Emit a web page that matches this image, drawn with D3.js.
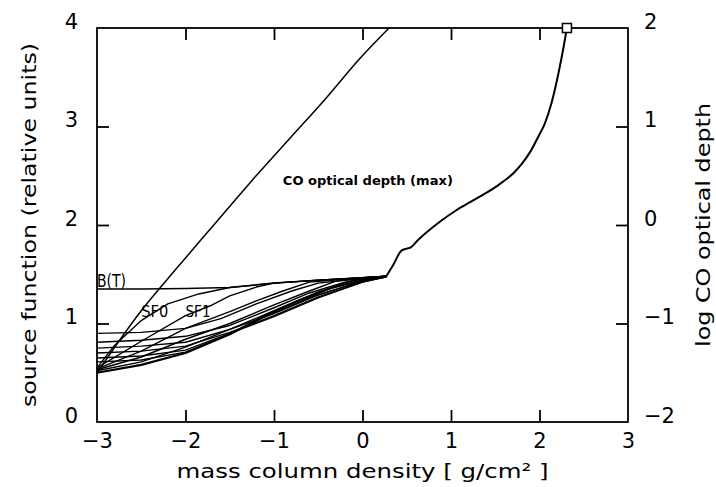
<!DOCTYPE html>
<html>
<head>
<meta charset="utf-8">
<script src="https://cdn.jsdelivr.net/npm/d3@7"></script>
<style>
  html, body { margin: 0; padding: 0; background: #fff; }
  svg { display: block; }
  text { font-family: "DejaVu Sans", "Liberation Sans", sans-serif; fill: #000; }
</style>
</head>
<body>
<svg id="chart" width="716" height="487"></svg>
<script>
// Axis ranges and tick values
const xTicks = [-3, -2, -1, 0, 1, 2, 3];
const yLeftTicks = [0, 1, 2, 3, 4];
const yRightTicks = [-2, -1, 0, 1, 2];

// Planck function B(T) versus log mass column density
const planck = [[-3, 1.35], [-2.5, 1.35], [-2.0, 1.355], [-1.5, 1.365], [-1.0, 1.41], [-0.5, 1.44], [0, 1.465], [0.27, 1.48]];

// Source function curves rising from the surface (SF0, SF1, ...)
const sf0 = [[-3, 0.55], [-2.8, 0.78], [-2.5, 1.03], [-2.2, 1.2], [-1.85, 1.3], [-1.5, 1.365], [-1.0, 1.41], [-0.5, 1.44], [0, 1.465], [0.27, 1.48]];
const sf1 = [[-3, 0.55], [-2.5, 0.82], [-2.0, 1.08], [-1.72, 1.18], [-1.5, 1.28], [-1.2, 1.37], [-1.0, 1.41], [-0.5, 1.44], [0, 1.465], [0.27, 1.48]];
const sf2 = [[-3, 0.54], [-2.5, 0.72], [-2.0, 0.95], [-1.5, 1.12], [-1.2, 1.23], [-0.9, 1.33], [-0.6, 1.42], [0, 1.465], [0.27, 1.48]];
const sf3 = [[-3, 0.53], [-2.5, 0.66], [-2.0, 0.84], [-1.5, 1.0], [-1.0, 1.19], [-0.6, 1.33], [-0.3, 1.43], [0, 1.46], [0.27, 1.48]];
const sf4 = [[-3, 0.52], [-2.5, 0.61], [-2.0, 0.76], [-1.5, 0.94], [-1.0, 1.13], [-0.5, 1.32], [-0.1, 1.44], [0.27, 1.48]];
const sf5 = [[-3, 0.5], [-2.5, 0.58], [-2.0, 0.7], [-1.5, 0.89], [-1.1, 1.08], [-0.7, 1.24], [-0.35, 1.36], [0, 1.44], [0.27, 1.475]];

// Source function curves starting flat near the surface
const sf6 = [[-3, 0.9], [-2.5, 0.91], [-2.0, 0.95], [-1.6, 1.05], [-1.2, 1.2], [-0.8, 1.33], [-0.5, 1.41], [0, 1.46], [0.27, 1.48]];
const sf7 = [[-3, 0.81], [-2.5, 0.83], [-2.0, 0.87], [-1.5, 0.98], [-1.0, 1.16], [-0.6, 1.31], [-0.2, 1.42], [0.1, 1.465], [0.27, 1.48]];
const sf8 = [[-3, 0.75], [-2.5, 0.77], [-2.0, 0.81], [-1.5, 0.94], [-1.0, 1.1], [-0.5, 1.29], [0, 1.43], [0.27, 1.48]];
const sf9 = [[-3, 0.7], [-2.5, 0.72], [-2.0, 0.77], [-1.5, 0.91], [-1.0, 1.08], [-0.5, 1.27], [0, 1.42], [0.27, 1.475]];
const sf10 = [[-3, 0.65], [-2.5, 0.67], [-2.0, 0.73], [-1.5, 0.9], [-1.0, 1.07], [-0.5, 1.26], [0, 1.42], [0.27, 1.475]];
const sf11 = [[-3, 0.61], [-2.5, 0.63], [-2.0, 0.71], [-1.5, 0.89], [-1.1, 1.07], [-0.6, 1.26], [0, 1.43], [0.27, 1.475]];

const sfCurves = [sf0, sf1, sf2, sf3, sf4, sf6, sf7, sf8, sf9, sf10, sf11];
const sfEnvelope = sf5;

// Common source function beyond the thermalisation point
const sfDeep = [[0.27, 1.48], [0.35, 1.6], [0.44, 1.74], [0.5, 1.76], [0.54, 1.77], [0.63, 1.85], [0.87, 2.03], [1.06, 2.15], [1.25, 2.25], [1.51, 2.39], [1.71, 2.53], [1.8, 2.62], [1.9, 2.75], [2.0, 2.92], [2.06, 3.03], [2.13, 3.22], [2.19, 3.44], [2.25, 3.7], [2.31, 4.0]];

// Maximum CO optical depth (log, right axis)
const coDepth = [[-3.0, -1.5], [-2.5, -0.87], [-2.1, -0.44], [-1.7, -0.02], [-1.27, 0.43], [-0.82, 0.88], [-0.4, 1.3], [-0.03, 1.69], [0.3, 2.0]];

const svg = d3.select("#chart");

const x = d3.scaleLinear().domain([-3, 3]).range([97, 628]);
const yL = d3.scaleLinear().domain([0, 4]).range([422, 28]);
const yR = d3.scaleLinear().domain([-2, 2]).range([422, 28]);

const tickFont = "21px";

// Bottom axis with labels
const gB = svg.append("g").attr("transform", `translate(0,${yL(0)})`)
  .call(d3.axisBottom(x).tickValues(xTicks).tickSizeInner(-12).tickSizeOuter(0).tickPadding(11).tickFormat(d3.format("d")));
// Top axis, ticks only
const gT = svg.append("g").attr("transform", `translate(0,${yL(4)})`)
  .call(d3.axisTop(x).tickValues(xTicks.slice(1, -1)).tickSizeInner(-12).tickSizeOuter(0).tickFormat(""));
// Left axis
const gL = svg.append("g").attr("transform", `translate(${x(-3)},0)`)
  .call(d3.axisLeft(yL).tickValues(yLeftTicks).tickSizeInner(-12).tickSizeOuter(0).tickPadding(19).tickFormat(d3.format("d")));
// Right axis
const gR = svg.append("g").attr("transform", `translate(${x(3)},0)`)
  .call(d3.axisRight(yR).tickValues(yRightTicks).tickSizeInner(-12).tickSizeOuter(0).tickPadding(16).tickFormat(d3.format("d")));

[gB, gT, gL, gR].forEach(g => {
  g.select(".domain").remove();
  g.selectAll(".tick line").attr("stroke", "#000").attr("stroke-width", 1.8);
  g.selectAll(".tick text").attr("font-size", tickFont).attr("font-family", "DejaVu Sans").attr("fill", "#000");
});
gL.selectAll(".tick text").attr("dy", "0");
gR.selectAll(".tick text").attr("dy", "0");
// end ticks sit on the frame
gB.selectAll(".tick").filter(d => d === -3 || d === 3).select("line").remove();
gL.selectAll(".tick").filter(d => d === 0 || d === 4).select("line").remove();
gR.selectAll(".tick").filter(d => d === -2 || d === 2).select("line").remove();

// Frame
svg.append("rect")
  .attr("x", x(-3)).attr("y", yL(4))
  .attr("width", x(3) - x(-3)).attr("height", yL(0) - yL(4))
  .attr("fill", "none").attr("stroke", "#000").attr("stroke-width", 1.8);

const plot = svg.append("g");

const lineL = d3.line().x(d => x(d[0])).y(d => yL(d[1]));
const smoothL = d3.line().x(d => x(d[0])).y(d => yL(d[1])).curve(d3.curveMonotoneX);
const smoothR = d3.line().x(d => x(d[0])).y(d => yR(d[1])).curve(d3.curveMonotoneX);

// Source function family
plot.selectAll("path.sf").data(sfCurves).join("path")
  .attr("class", "sf")
  .attr("d", lineL)
  .attr("fill", "none").attr("stroke", "#000").attr("stroke-width", 1.4)
  .attr("stroke-linejoin", "round");

// Lowest source function
plot.append("path").attr("d", lineL(sfEnvelope))
  .attr("fill", "none").attr("stroke", "#000").attr("stroke-width", 2.2)
  .attr("stroke-linejoin", "round");

// Planck function
plot.append("path").attr("d", lineL(planck))
  .attr("fill", "none").attr("stroke", "#000").attr("stroke-width", 1.5);

// Deep source function
plot.append("path").attr("d", smoothL(sfDeep))
  .attr("fill", "none").attr("stroke", "#000").attr("stroke-width", 2);

// CO optical depth
plot.append("path").attr("d", smoothR(coDepth))
  .attr("fill", "none").attr("stroke", "#000").attr("stroke-width", 1.5);

// Marker at the top of the deep source function
const last = sfDeep[sfDeep.length - 1];
plot.append("rect")
  .attr("x", x(last[0]) - 4.5).attr("y", yL(last[1]) - 4.5)
  .attr("width", 9).attr("height", 9)
  .attr("fill", "#fff").attr("stroke", "#000").attr("stroke-width", 1.5);

// Curve labels
svg.append("text").attr("x", x(-0.9)).attr("y", yL(2.41))
  .attr("font-size", "12.5px").attr("font-weight", "bold")
  .attr("textLength", 170).attr("lengthAdjust", "spacingAndGlyphs")
  .text("CO optical depth (max)");
svg.append("text").attr("x", x(-3)).attr("y", yL(1.37))
  .attr("font-size", "17px").attr("textLength", 29).attr("lengthAdjust", "spacingAndGlyphs")
  .text("B(T)");
svg.append("text").attr("x", x(-2.5)).attr("y", yL(1.066))
  .attr("font-size", "16px").attr("textLength", 27).attr("lengthAdjust", "spacingAndGlyphs")
  .text("SF0");
svg.append("text").attr("x", x(-2.0)).attr("y", yL(1.066))
  .attr("font-size", "16px").attr("textLength", 25).attr("lengthAdjust", "spacingAndGlyphs")
  .text("SF1");

// Axis titles
svg.append("text").attr("x", x(0)).attr("y", 478)
  .attr("text-anchor", "middle").attr("font-size", "20px")
  .attr("textLength", 372).attr("lengthAdjust", "spacingAndGlyphs")
  .text("mass column density [ g/cm² ]");
svg.append("text")
  .attr("transform", `translate(36,${(yL(0) + yL(4)) / 2}) rotate(-90)`)
  .attr("text-anchor", "middle").attr("font-size", "20px")
  .attr("textLength", 364).attr("lengthAdjust", "spacingAndGlyphs")
  .text("source function (relative units)");
svg.append("text")
  .attr("transform", `translate(710,${(yR(-2) + yR(2)) / 2}) rotate(-90)`)
  .attr("text-anchor", "middle").attr("font-size", "19px")
  .attr("textLength", 244).attr("lengthAdjust", "spacingAndGlyphs")
  .text("log CO optical depth");
</script>
</body>
</html>
